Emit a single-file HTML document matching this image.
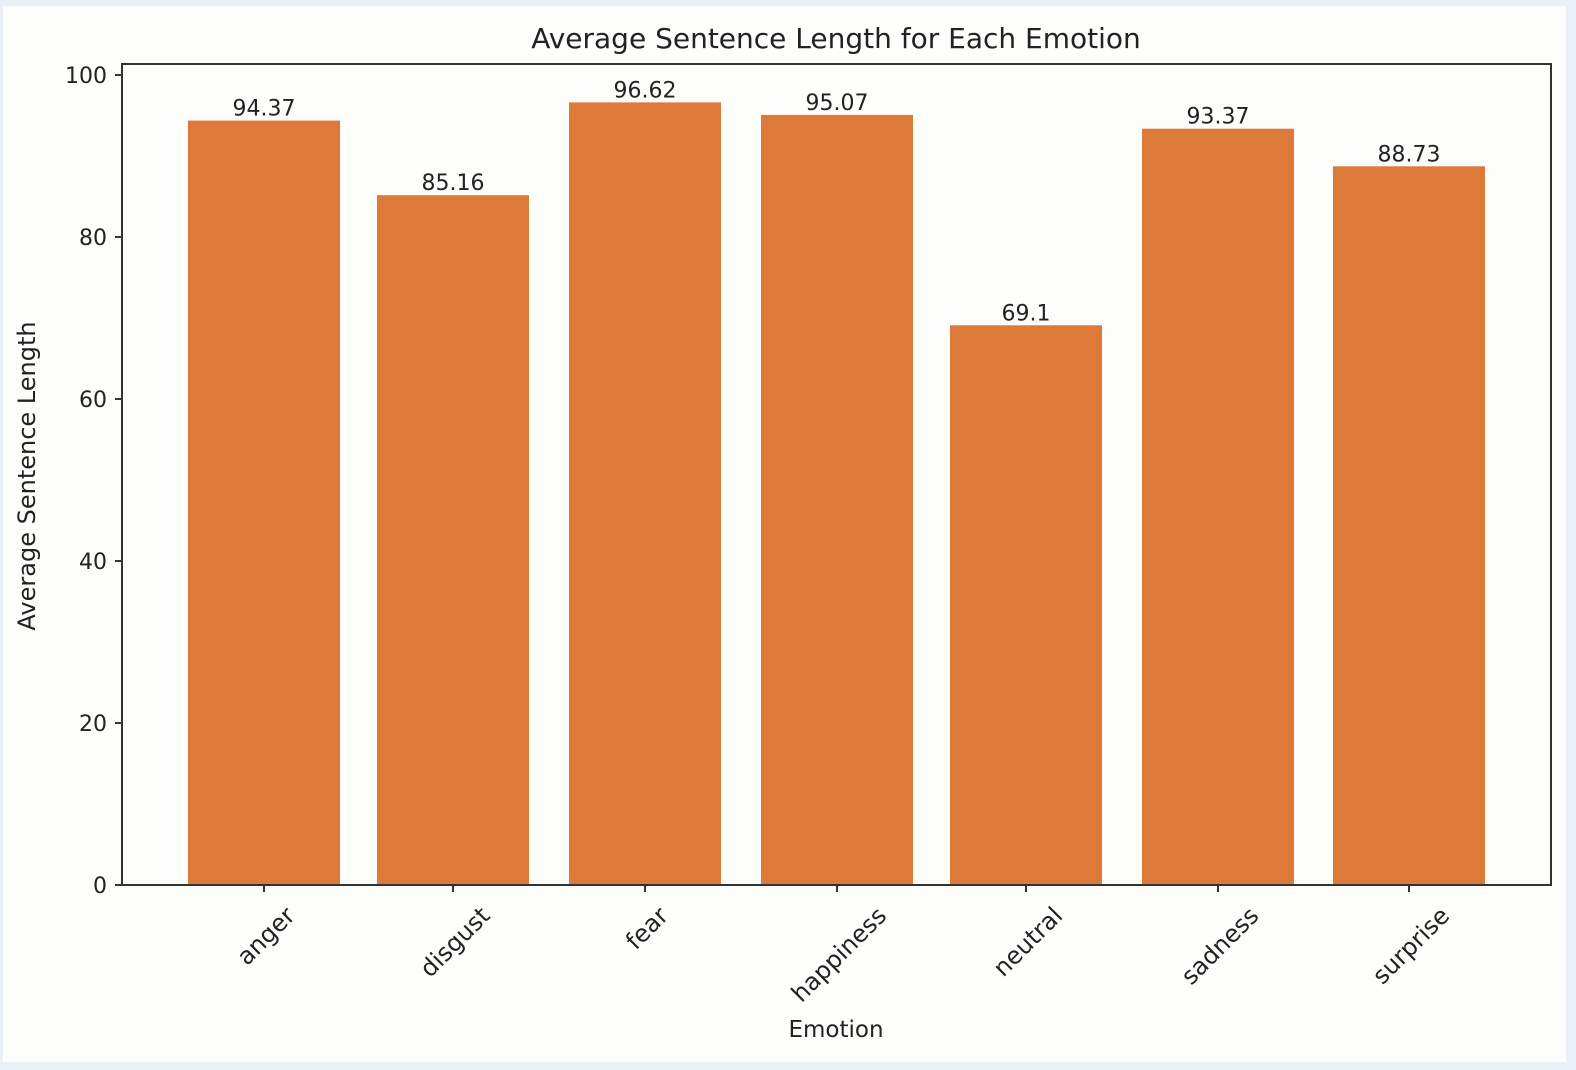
<!DOCTYPE html>
<html><head><meta charset="utf-8"><style>
html,body{margin:0;padding:0;background:#e9f1f7;}
svg{display:block;font-family:"DejaVu Sans","Liberation Sans",sans-serif;}
</style></head><body>
<svg id="s" width="1576" height="1070" xmlns="http://www.w3.org/2000/svg">
<rect x="0" y="0" width="1576" height="1070" fill="#e9f1f7"/>
<rect x="3" y="6" width="1563" height="1056" fill="#fdfdfc"/>
<text x="836" y="48" font-size="28" text-anchor="middle" fill="#222">Average Sentence Length for Each Emotion</text>
<g id="bars" fill="#dd7a3a"></g>
<g id="lbl" font-size="22" fill="#222" text-anchor="middle"></g>
<rect x="122" y="64" width="1429" height="821" fill="none" stroke="#333" stroke-width="2"/>
<g id="yt" font-size="22" fill="#222" text-anchor="end"></g>
<g id="xt" font-size="24" fill="#222"></g>
<text x="836" y="1037" font-size="23" text-anchor="middle" fill="#222">Emotion</text>
<text transform="translate(35,476) rotate(-90)" font-size="24" text-anchor="middle" fill="#222">Average Sentence Length</text>
</svg>
<script>
var ns="http://www.w3.org/2000/svg";
function el(t,a,p,txt){var e=document.createElementNS(ns,t);for(var k in a)e.setAttribute(k,a[k]);if(txt!=null)e.textContent=txt;p.appendChild(e);return e;}
var y0=885,k=8.1;
var data=[["anger",94.37,264],["disgust",85.16,453],["fear",96.62,645],["happiness",95.07,837],["neutral",69.1,1026],["sadness",93.37,1218],["surprise",88.73,1409]];
var B=document.getElementById("bars"),L=document.getElementById("lbl"),X=document.getElementById("xt"),Y=document.getElementById("yt"),S=document.getElementById("s");
data.forEach(function(d){
 var top=y0-d[1]*k;
 el("rect",{x:d[2]-76,y:top,width:152,height:y0-top},B);
 el("text",{x:d[2],y:top-5},L,String(d[1]));
 el("line",{x1:d[2],x2:d[2],y1:y0,y2:y0+7,stroke:"#333","stroke-width":2},S);
 var t=el("text",{"text-anchor":"middle","dominant-baseline":"central"},X,d[0]);
 var w=t.getComputedTextLength(),h=24;
 var cy=y0+18+(w+h)*0.707/2;
 t.setAttribute("transform","translate("+(d[2]+2)+","+cy+") rotate(-45)");
});
for(var v=0;v<=100;v+=20){var y=y0-v*k;
 el("line",{x1:115,x2:122,y1:y,y2:y,stroke:"#333","stroke-width":2},S);
 el("text",{x:107,y:y+8},Y,String(v));}
</script>
</body></html>
